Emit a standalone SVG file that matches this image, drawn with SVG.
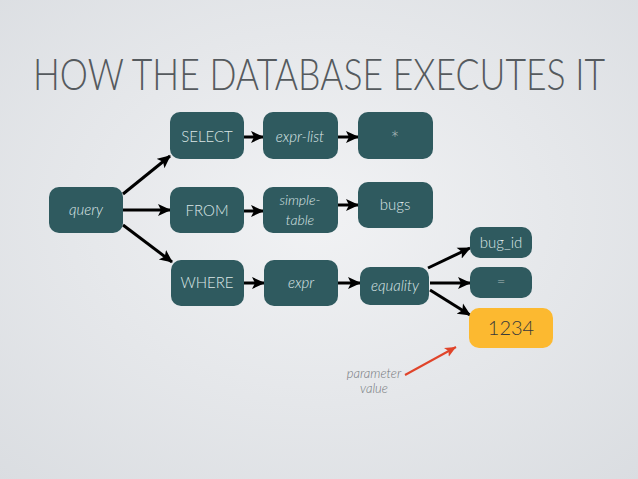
<svg xmlns="http://www.w3.org/2000/svg" width="638" height="479" viewBox="0 0 638 479">
<defs>
<radialGradient id="bg" cx="50%" cy="45%" r="75%">
<stop offset="0" stop-color="#f1f2f4"/>
<stop offset="1" stop-color="#dadde1"/>
</radialGradient>
<marker id="ah" markerUnits="userSpaceOnUse" markerWidth="14" markerHeight="14" viewBox="0 0 14 14" refX="12" refY="7" orient="auto">
<path d="M0,1 L13,7 L0,13 L3,7 Z" fill="#000"/>
</marker>
<marker id="ahr" markerUnits="userSpaceOnUse" markerWidth="12" markerHeight="12" viewBox="0 0 12 12" refX="11" refY="6" orient="auto">
<path d="M0,1 L11,6 L0,11 L2.5,6 Z" fill="#e0442a"/>
</marker>
</defs>
<style>
.box{fill:#2f5a5f}
.lbl{font-family:Lato,"Open Sans","Liberation Sans",sans-serif;font-weight:300;font-size:15px;fill:#dce6e6;text-anchor:middle}
.it{font-style:italic}
.con{stroke:#000;stroke-width:3;fill:none;marker-end:url(#ah)}
</style>
<rect width="638" height="479" fill="url(#bg)"/>
<text transform="translate(33,90) scale(0.808,1)" x="0" y="0" style="font-family:Lato,'Open Sans','Liberation Sans',sans-serif;font-weight:300;font-size:44px;fill:#555a5e">HOW THE DATABASE EXECUTES IT</text>
<g id="connectors">
<line class="con" x1="123" y1="194" x2="170" y2="156"/>
<line class="con" x1="123" y1="210" x2="170" y2="210"/>
<line class="con" x1="123" y1="225" x2="172" y2="262"/>
<line class="con" x1="244" y1="137" x2="263" y2="137"/>
<line class="con" x1="338" y1="137" x2="358" y2="137"/>
<line class="con" x1="244" y1="211" x2="263" y2="211"/>
<line class="con" x1="338" y1="205" x2="358" y2="205"/>
<line class="con" x1="244" y1="283" x2="264" y2="283"/>
<line class="con" x1="338" y1="283" x2="360" y2="283"/>
<line class="con" x1="428" y1="268" x2="470" y2="248"/>
<line class="con" x1="430" y1="283" x2="470" y2="283"/>
<line class="con" x1="430" y1="290" x2="470" y2="315"/>
<line x1="405" y1="375" x2="456" y2="347" stroke="#e0442a" stroke-width="2" marker-end="url(#ahr)"/>
</g>
<g id="query"><rect class="box" x="49" y="187" width="74" height="46" rx="10"/><text class="lbl it" x="86" y="215">query</text></g>
<g id="select"><rect class="box" x="170" y="112" width="74" height="47" rx="10"/><text class="lbl" x="207" y="142">SELECT</text></g>
<g id="expr-list"><rect class="box" x="263" y="112" width="75" height="47" rx="10"/><text class="lbl it" x="300" y="142">expr-list</text></g>
<g id="star"><rect class="box" x="358" y="112" width="75" height="47" rx="10"/><text class="lbl" x="395" y="147" style="font-size:21px;fill:#a9b8b8">*</text></g>
<g id="from"><rect class="box" x="170" y="187" width="74" height="46" rx="10"/><text class="lbl" x="207" y="216">FROM</text></g>
<g id="simple-table"><rect class="box" x="263" y="187" width="75" height="46" rx="10"/><text class="lbl it" x="300" y="205" style="font-size:14px">simple-</text><text class="lbl it" x="300" y="225" style="font-size:14px">table</text></g>
<g id="bugs"><rect class="box" x="358" y="182" width="75" height="46" rx="10"/><text class="lbl" x="395" y="210">bugs</text></g>
<g id="where"><rect class="box" x="171" y="260" width="73" height="46" rx="10"/><text class="lbl" x="207" y="288">WHERE</text></g>
<g id="expr"><rect class="box" x="264" y="260" width="74" height="46" rx="10"/><text class="lbl it" x="301" y="288">expr</text></g>
<g id="equality"><rect class="box" x="360" y="267" width="69" height="38" rx="10"/><text class="lbl it" x="395" y="291">equality</text></g>
<g id="bug_id"><rect class="box" x="470" y="227" width="62" height="31" rx="10"/><text class="lbl" x="501" y="248">bug_id</text></g>
<g id="eq"><rect class="box" x="470" y="267" width="62" height="31" rx="10"/><text class="lbl" x="501" y="287" style="fill:#a9b8b8">=</text></g>
<g id="val"><rect x="469" y="308" width="84" height="40" rx="10" fill="#fcb930"/><text class="lbl" x="511" y="335" style="font-size:20px;fill:#3a3a3a">1234</text></g>
<g id="param"><text class="lbl it" x="374" y="378" style="font-size:13px;fill:#72767a">parameter</text><text class="lbl it" x="374" y="393" style="font-size:13px;fill:#72767a">value</text></g>
</svg>
